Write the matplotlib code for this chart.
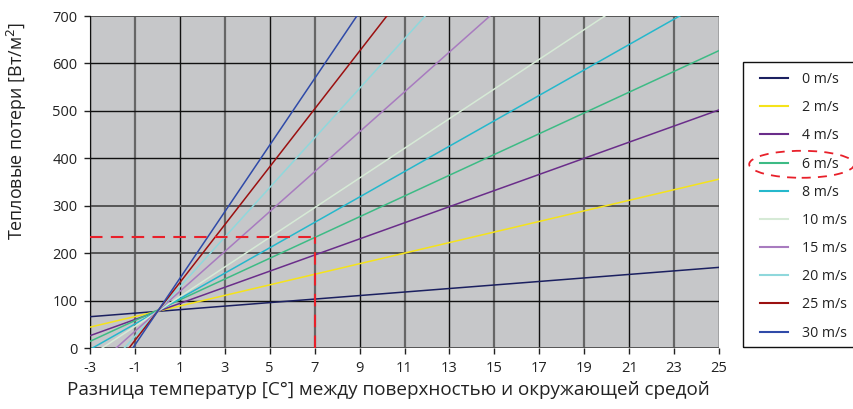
import matplotlib.pyplot as plt
from matplotlib.patches import Ellipse, Rectangle

# wind speeds and heat loss read at the left (dT=-3) and right (dT=25) edges
speeds = ['0 m/s', '2 m/s', '4 m/s', '6 m/s', '8 m/s', '10 m/s',
          '15 m/s', '20 m/s', '25 m/s', '30 m/s']
dt_ends = [-3, 25]
loss_left = [66, 44, 26, 14, -3, -17, -49, -80, -106, -134]
loss_right = [170, 356, 502, 627, 747, 859, 1129, 1384, 1602, 1832]
colors = ['#1b2060', '#f5e31a', '#6a2d8a', '#3dbb85', '#25b8cc',
          '#d6ead6', '#a87bbf', '#8fd8dc', '#9b1010', '#2f4aa8']

# example reading marked with red dashes
mark_dt = 7
mark_loss = 233

x_ticks = list(range(-3, 26, 2))
y_ticks = list(range(0, 701, 100))

plt.rcParams['font.family'] = ['Open Sans', 'DejaVu Sans']
plt.rcParams['axes.unicode_minus'] = False

W, H = 854, 409
fig = plt.figure(figsize=(W / 100, H / 100), dpi=100)
ax = fig.add_axes([90 / W, 1 - 348 / H, 629 / W, 332 / H])
ax.set_facecolor('#c6c7c9')

lines = []
for name, a, b, c in zip(speeds, loss_left, loss_right, colors):
    ln, = ax.plot(dt_ends, [a, b], color=c, lw=1.1, label=name, zorder=3)
    lines.append(ln)

ax.plot([dt_ends[0], mark_dt], [mark_loss, mark_loss], color='#e8202a',
        lw=1.5, dashes=(6, 4), zorder=4)
ax.plot([mark_dt, mark_dt], [0, mark_loss], color='#e8202a',
        lw=1.5, dashes=(6, 4), zorder=4)

ax.set_xlim(-3, 25)
ax.set_ylim(0, 700)
ax.set_xticks(x_ticks)
ax.set_yticks(y_ticks)
ax.tick_params(direction='out', length=4, width=1, colors='#222222',
               labelsize=10.5, pad=5)
ax.grid(True, color='#111111', lw=1.0, zorder=1)
ax.set_axisbelow(True)
for i, g in enumerate(ax.xaxis.get_gridlines()):
    if i % 2 == 1:
        g.set_color('#666666')
        g.set_linewidth(1.6)
for i, g in enumerate(ax.yaxis.get_gridlines()):
    if i in (0, 2, 3, 7):
        g.set_color('#555555')
        g.set_linewidth(1.4)
for s in ax.spines.values():
    s.set_visible(False)
ax.spines['left'].set_visible(True)
ax.spines['left'].set_color('#111111')

ax.set_xlabel('Разница температур [C°] между поверхностью и окружающей средой',
              fontsize=13.6, color='#222222')
ax.xaxis.set_label_coords(0.475, -0.1)
ax.set_ylabel('Тепловые потери [Вт/м$^2$]', fontsize=12.9, color='#222222')
ax.yaxis.set_label_coords(-0.097, 0.655)

# legend box drawn by hand so it can run off the right edge like the original
fig.patches.append(Rectangle((743 / W, 1 - 347 / H), 130 / W, 285 / H,
                             transform=fig.transFigure, fill=False,
                             edgecolor='#111111', lw=1.0))
leg = fig.legend(handles=lines, loc='upper left',
                 bbox_to_anchor=(760 / W, 1 - 72 / H),
                 frameon=False, fontsize=10.2,
                 handlelength=1.95, handletextpad=1.0, labelspacing=0.93,
                 borderpad=0, borderaxespad=0)
for t in leg.get_texts():
    t.set_color('#222222')
for h in leg.get_lines():
    h.set_linewidth(1.5)

ell = Ellipse((801.7 / W, 1 - 164.3 / H), 105 / W, 27 / H,
              transform=fig.transFigure, fill=False, edgecolor='#e8202a',
              lw=1.3, ls=(0, (5, 4)), zorder=10)
fig.patches.append(ell)

fig.savefig('out.png', dpi=100)
